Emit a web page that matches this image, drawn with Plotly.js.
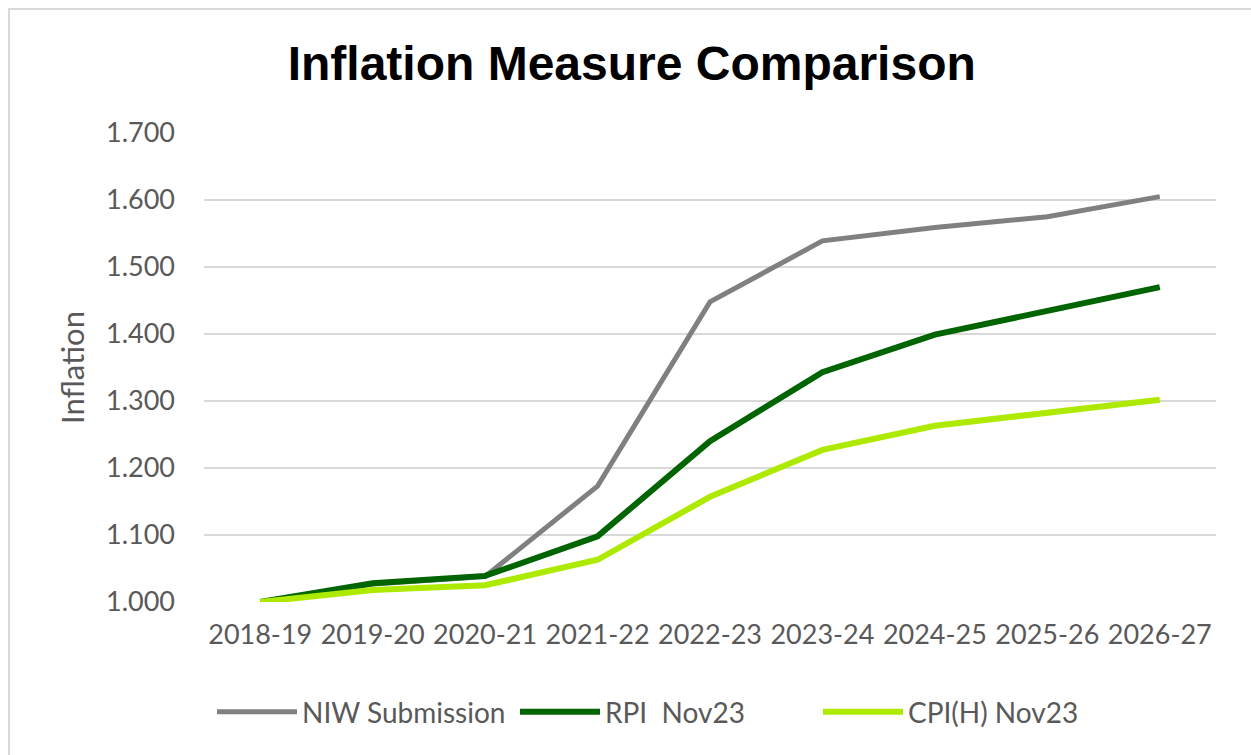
<!DOCTYPE html>
<html>
<head>
<meta charset="utf-8">
<script src="https://cdn.plot.ly/plotly-3.0.1.min.js"></script>
<style>
  html, body { margin:0; padding:0; background:#ffffff; overflow:hidden; }
  #frame { position:absolute; left:8px; top:8px; width:1300px; height:800px; border:2px solid #d9d9d9; box-sizing:border-box; }
  #chart { position:absolute; left:0; top:0; width:1251px; height:755px; }
</style>
</head>
<body>
<div id="frame"></div>
<div id="chart"></div>
<script>
const categories = ["2018-19","2019-20","2020-21","2021-22","2022-23","2023-24","2024-25","2025-26","2026-27"];
const niwSubmission = [1.000, 1.027, 1.038, 1.173, 1.448, 1.539, 1.559, 1.575, 1.605];
const rpiNov23 = [1.000, 1.028, 1.039, 1.098, 1.240, 1.343, 1.399, 1.435, 1.470];
const cpihNov23 = [1.000, 1.018, 1.025, 1.063, 1.157, 1.227, 1.263, 1.282, 1.302];
const seriesNames = ["NIW Submission", "RPI  Nov23", "CPI(H) Nov23"];
const yTicks = [1.0, 1.1, 1.2, 1.3, 1.4, 1.5, 1.6, 1.7];

const textColor = "#595959";
const fontFam = "Lato, 'Open Sans', sans-serif";

const traces = [
  {x: categories, y: niwSubmission, name: seriesNames[0], type: "scatter", mode: "lines",
   line: {color: "#808080", width: 5}},
  {x: categories, y: rpiNov23, name: seriesNames[1], type: "scatter", mode: "lines",
   line: {color: "#006400", width: 6}},
  {x: categories, y: cpihNov23, name: seriesNames[2], type: "scatter", mode: "lines",
   line: {color: "#aeea00", width: 6}}
];

const layout = {
  width: 1251, height: 755,
  paper_bgcolor: "rgba(0,0,0,0)", plot_bgcolor: "rgba(0,0,0,0)",
  margin: {l: 204, r: 35, t: 133, b: 153},
  title: {text: "<b>Inflation Measure Comparison</b>", x: 0.505, xanchor: "center",
          y: 1 - 63/755, yanchor: "middle", yref: "container",
          font: {family: "'Liberation Sans', Arial, sans-serif", size: 48, color: "#000000"}},
  font: {family: fontFam, color: textColor},
  xaxis: {type: "category", range: [-0.5, 8.5],
          tickfont: {size: 27, color: textColor, family: fontFam},
          showgrid: false, zeroline: false, showline: false, ticks: "",
          ticklabelstandoff: 14, fixedrange: true},
  yaxis: {range: [1.0, 1.7], tickvals: yTicks, tickformat: ".3f",
          tickfont: {size: 27, color: textColor, family: fontFam},
          gridcolor: "#d9d9d9", gridwidth: 2, zeroline: false, showline: false, ticks: "",
          ticklabelstandoff: 28,
          title: {text: "Inflation", font: {size: 31, color: textColor, family: fontFam}, standoff: 12},
          fixedrange: true},
  legend: {orientation: "h", x: (212 - 204) / 1012, xanchor: "left",
           y: 1 - 712/755, yanchor: "middle", yref: "container",
           font: {size: 28, color: textColor, family: fontFam}, itemwidth: 80,
           entrywidth: 208, entrywidthmode: "pixels",
           traceorder: "normal", bgcolor: "rgba(0,0,0,0)"},
  showlegend: true
};

Plotly.newPlot("chart", traces, layout, {displayModeBar: false, staticPlot: true});
</script>
</body>
</html>
